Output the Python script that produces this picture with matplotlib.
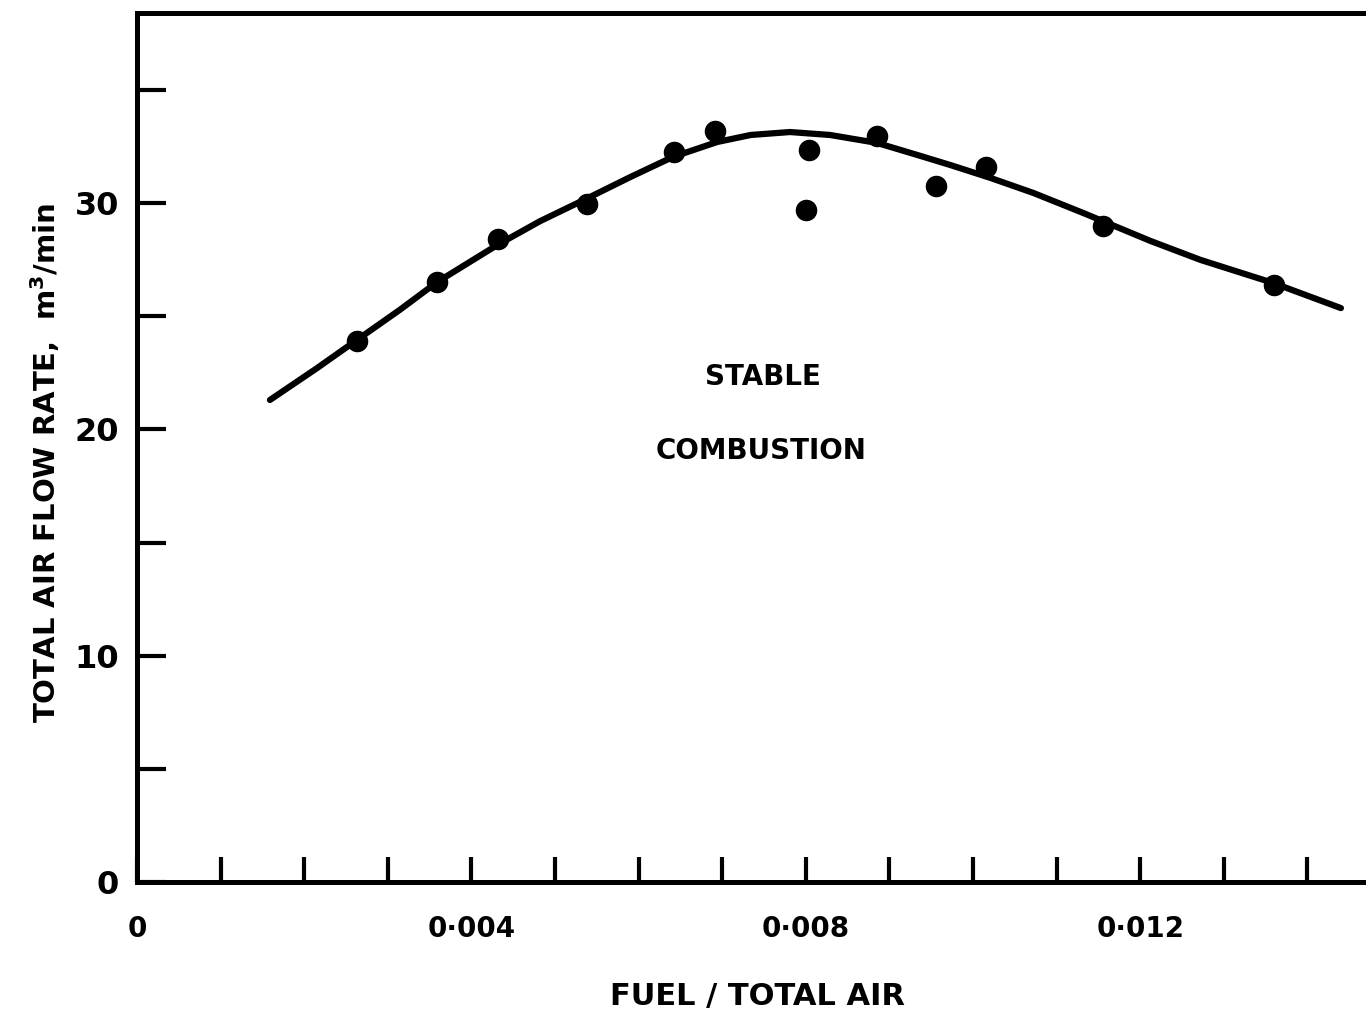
import numpy as np
import matplotlib.pyplot as plt

# measured points (fuel/air ratio, air flow m3/min)
fuel_air = [0.00263, 0.00359, 0.00432, 0.00538, 0.00642, 0.00691, 0.00804,
            0.0080, 0.00885, 0.00956, 0.01016, 0.01155, 0.0136]
air_flow = [23.9, 26.5, 28.4, 29.95, 32.25, 33.2, 32.35,
            29.7, 32.95, 30.75, 31.6, 29.0, 26.4]

# hand-drawn stability boundary
curve_x = [0.00159, 0.00215, 0.00263, 0.00315, 0.00359, 0.00431, 0.00482,
           0.00538, 0.00590, 0.00641, 0.00694, 0.00734, 0.00781, 0.00829,
           0.00885, 0.00933, 0.00973, 0.01021, 0.01072, 0.01132, 0.01212,
           0.01272, 0.01359, 0.01440]
curve_y = [21.30, 22.70, 23.95, 25.30, 26.51, 28.15, 29.20,
           30.20, 31.15, 32.04, 32.70, 33.01, 33.14, 33.01,
           32.66, 32.13, 31.68, 31.11, 30.45, 29.56, 28.33,
           27.49, 26.47, 25.36]

xticks = [0, 0.004, 0.008, 0.012]
xtick_labels = ['0', '0·004', '0·008', '0·012']
yticks = [0, 10, 20, 30]

plt.rcParams['font.family'] = ['DejaVu Sans']
fig = plt.figure(figsize=(13.66, 10.13), dpi=100)
ax = fig.add_axes([137/1366, 1-882/1013, 1-137/1366, (882-13)/1013])

ax.plot(curve_x, curve_y, color='black', lw=4.5, solid_capstyle='round',
        solid_joinstyle='round')
ax.plot(fuel_air, air_flow, 'o', color='black', ms=14.5)

ax.set_xlim(0, 0.0147)
ax.set_ylim(0, 38.4)

ax.spines['right'].set_visible(False)
for s in ['left', 'bottom', 'top']:
    ax.spines[s].set_linewidth(3.6)

ax.set_xticks(np.arange(0, 0.0145, 0.001), minor=True)
ax.set_xticks(xticks)
ax.set_xticklabels(xtick_labels, fontsize=20, fontweight='bold')
ax.set_yticks(np.arange(0, 36, 5), minor=True)
ax.set_yticks(yticks)
ax.set_yticklabels([str(v) for v in yticks], fontsize=23, fontweight='bold')
ax.tick_params(axis='x', which='both', direction='in', length=18, width=3, pad=24)
ax.tick_params(axis='y', which='both', direction='in', length=21, width=3, pad=13)
ax.tick_params(axis='x', which='minor', labelbottom=False)

ax.text(0.00749, 22.3, 'STABLE', fontsize=20, fontweight='bold',
        ha='center', va='center')
ax.text(0.00747, 19.05, 'COMBUSTION', fontsize=20, fontweight='bold',
        ha='center', va='center')

fig.text(45/1366, 1-463/1013, 'TOTAL AIR FLOW RATE,  m$^\\mathbf{3}$/min',
         fontsize=21, fontweight='bold', rotation=90, ha='center', va='center')
fig.text(757/1366, 1-996/1013, 'FUEL / TOTAL AIR', fontsize=22,
         fontweight='bold', ha='center', va='center')

fig.savefig('out.png', dpi=100)
